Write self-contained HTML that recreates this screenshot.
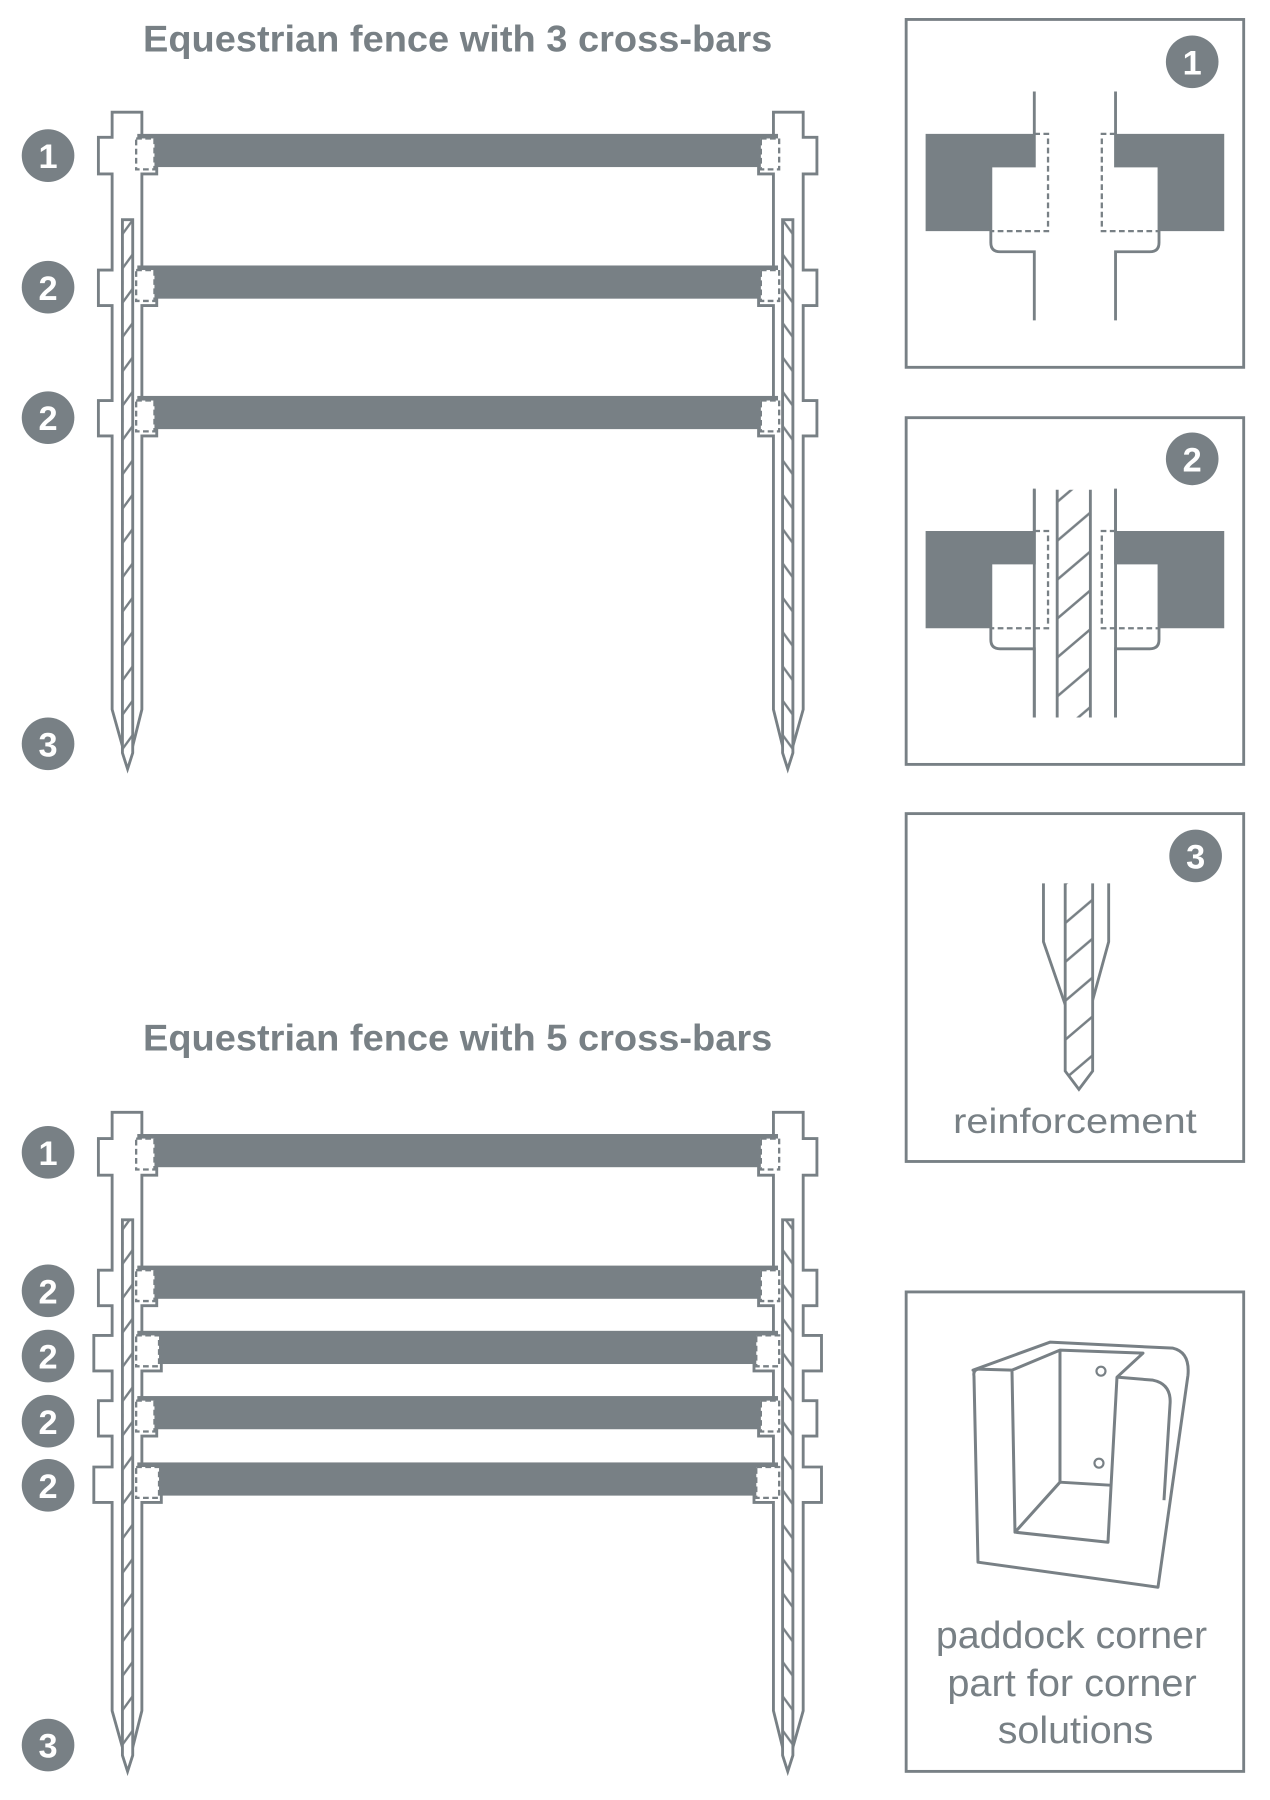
<!DOCTYPE html>
<html><head><meta charset="utf-8"><style>
html,body{margin:0;padding:0;background:#fff;}
svg{display:block;}
text{font-family:"Liberation Sans",sans-serif;}
</style></head><body>
<svg width="1270" height="1800" viewBox="0 0 1110 1573" preserveAspectRatio="none" xmlns="http://www.w3.org/2000/svg">
<defs>
<pattern id="h" patternUnits="userSpaceOnUse" width="12" height="30">
<rect width="12" height="30" fill="#fff"/>
<line x1="-2" y1="26" x2="14" y2="4" stroke="#788085" stroke-width="2"/>
</pattern>
<pattern id="h2" patternUnits="userSpaceOnUse" width="40" height="34">
<rect width="40" height="34" fill="#fff"/>
<line x1="0" y1="34" x2="40" y2="0" stroke="#788085" stroke-width="2.2"/>
</pattern>
</defs>
<g fill="none" stroke="#788085" stroke-width="2.5">
<!-- titles -->
<text x="125" y="45" font-size="32" font-weight="bold" fill="#788085" stroke="none" textLength="550" lengthAdjust="spacingAndGlyphs">Equestrian fence with 3 cross-bars</text>
<text x="125" y="918" font-size="32" font-weight="bold" fill="#788085" stroke="none" textLength="550" lengthAdjust="spacingAndGlyphs">Equestrian fence with 5 cross-bars</text>

<!-- TOP FENCE -->
<g id="p1">
<path fill="#fff" d="M98,98 H124 V120 H137 V152 H124 V236 H137 V267 H124 V350 H137 V381 H124 V620 L116,652 L107,652 L98,620 V381 H86 V350 H98 V267 H86 V236 H98 V152 H86 V120 H98 Z"/>
<path fill="url(#h)" d="M107,192 H116 V658 L111.5,672 L107,658 Z"/>
</g>
<use href="#p1" transform="translate(800,0) scale(-1,1)"/>
<g fill="#788085" stroke="none">
<rect x="120" y="117" width="560" height="29"/>
<rect x="120" y="232" width="560" height="29"/>
<rect x="120" y="346" width="560" height="29"/>
</g>
<g fill="#fff" stroke-dasharray="5,3" stroke-width="2">
<rect x="119" y="121" width="16" height="27"/><rect x="665" y="121" width="16" height="27"/>
<rect x="119" y="236" width="16" height="27"/><rect x="665" y="236" width="16" height="27"/>
<rect x="119" y="350" width="16" height="27"/><rect x="665" y="350" width="16" height="27"/>
</g>

<!-- BOTTOM FENCE -->
<g id="p2">
<path fill="#fff" d="M98,972 H124 V995 H137 V1027 H124 V1110 H137 V1141 H124 V1167 H141 V1198 H124 V1224 H137 V1255 H124 V1282 H141 V1313 H124 V1495 L116,1527 L107,1527 L98,1495 V1313 H82 V1282 H98 V1255 H86 V1224 H98 V1198 H82 V1167 H98 V1141 H86 V1110 H98 V1027 H86 V995 H98 Z"/>
<path fill="url(#h)" d="M107,1066 H116 V1534 L111.5,1548 L107,1534 Z"/>
</g>
<use href="#p2" transform="translate(800,0) scale(-1,1)"/>
<g fill="#788085" stroke="none">
<rect x="120" y="991" width="560" height="29"/>
<rect x="120" y="1106" width="560" height="29"/>
<rect x="120" y="1163" width="560" height="29"/>
<rect x="120" y="1220" width="560" height="29"/>
<rect x="120" y="1278" width="560" height="29"/>
</g>
<g fill="#fff" stroke-dasharray="5,3" stroke-width="2">
<rect x="119" y="995" width="16" height="27"/><rect x="665" y="995" width="16" height="27"/>
<rect x="119" y="1110" width="16" height="27"/><rect x="665" y="1110" width="16" height="27"/>
<rect x="119" y="1167" width="20" height="27"/><rect x="661" y="1167" width="20" height="27"/>
<rect x="119" y="1224" width="16" height="27"/><rect x="665" y="1224" width="16" height="27"/>
<rect x="119" y="1282" width="20" height="27"/><rect x="661" y="1282" width="20" height="27"/>
</g>

<!-- number circles -->
<g stroke="none">
<g fill="#788085">
<circle cx="42" cy="136" r="23"/><circle cx="42" cy="251" r="23"/><circle cx="42" cy="365" r="23"/><circle cx="42" cy="650" r="23"/>
<circle cx="42" cy="1007" r="23"/><circle cx="42" cy="1128" r="23"/><circle cx="42" cy="1185" r="23"/><circle cx="42" cy="1242" r="23"/><circle cx="42" cy="1298" r="23"/><circle cx="42" cy="1525" r="23"/>
<circle cx="1042" cy="54" r="23"/><circle cx="1042" cy="401" r="23"/><circle cx="1045" cy="748" r="23"/>
</g>
<g fill="#fff" font-size="30" font-weight="bold" text-anchor="middle">
<text x="42" y="147">1</text><text x="42" y="262">2</text><text x="42" y="376">2</text><text x="42" y="661">3</text>
<text x="42" y="1018">1</text><text x="42" y="1139">2</text><text x="42" y="1196">2</text><text x="42" y="1253">2</text><text x="42" y="1309">2</text><text x="42" y="1536">3</text>
<text x="1042" y="65">1</text><text x="1042" y="412">2</text><text x="1045" y="759">3</text>
</g>
</g>

<!-- PANELS -->
<rect x="792" y="17" width="295" height="304"/>
<rect x="792" y="365" width="295" height="303"/>
<rect x="792" y="711" width="295" height="304"/>
<rect x="792" y="1129" width="295" height="419"/>

<g id="d1">
<path fill="#788085" stroke="none" d="M809,117 H904 V145 H866 V202 H809 Z"/>
<path d="M904,80 V145 H866 V212 Q866,220 874,220 H904 V280"/>
<path stroke-dasharray="5,3" stroke-width="2" d="M904,117 H916 V202 H866"/>
</g>
<use href="#d1" transform="translate(1879,0) scale(-1,1)"/>
<g id="d2" transform="translate(0,347)">
<path fill="#788085" stroke="none" d="M809,117 H904 V145 H866 V202 H809 Z"/>
<path d="M904,80 V145 H866 V212 Q866,220 874,220 H904 V280"/>
<path stroke-dasharray="5,3" stroke-width="2" d="M904,117 H916 V202 H866"/>
</g>
<use href="#d2" transform="translate(1879,0) scale(-1,1)"/>
<rect x="924" y="428" width="29" height="199" fill="url(#h2)" stroke="none"/>
<path d="M924,428 V627 M953,428 V627"/>
<line x1="904" y1="428" x2="904" y2="627"/><line x1="975" y1="428" x2="975" y2="627"/>

<!-- panel 3 -->
<path d="M912,772 V823 L931,878"/><path d="M969,772 V823 L955,874"/>
<path fill="url(#h2)" stroke="none" d="M931,772 H955 V936 L943,952 L931,936 Z"/>
<path d="M931,772 V936 L943,952 L955,936 V772"/>
<text x="833" y="990" font-size="31" fill="#788085" stroke="none" textLength="213" lengthAdjust="spacingAndGlyphs">reinforcement</text>

<!-- panel 4 corner part -->
<g transform="scale(0.874)" stroke-width="3" stroke-linejoin="round">
<path d="M973,1370 L1050,1342 L1173,1348 Q1190,1352 1188,1375 L1158,1587 L978,1562 L974,1376 Q973,1370 978,1369 Z"/>
<path d="M978,1369 L1012,1370 L1060,1350 L1143,1353 L1117,1377 L1108,1542 L1015,1532 L1012,1370"/>
<path d="M1060,1350 V1482 L1015,1532 M1060,1482 L1110,1485"/>
<path d="M1117,1377 L1153,1380 Q1172,1384 1170,1405 L1164,1500"/>
<circle cx="1101" cy="1371" r="4.5" stroke-width="2.2"/>
<circle cx="1099" cy="1463" r="4.5" stroke-width="2.2"/>
</g>
<g fill="#788085" stroke="none" font-size="33">
<text x="818" y="1440" textLength="237" lengthAdjust="spacingAndGlyphs">paddock corner</text>
<text x="828" y="1482" textLength="218" lengthAdjust="spacingAndGlyphs">part for corner</text>
<text x="872" y="1523" textLength="136" lengthAdjust="spacingAndGlyphs">solutions</text>
</g>
</g>
</svg>
</body></html>
